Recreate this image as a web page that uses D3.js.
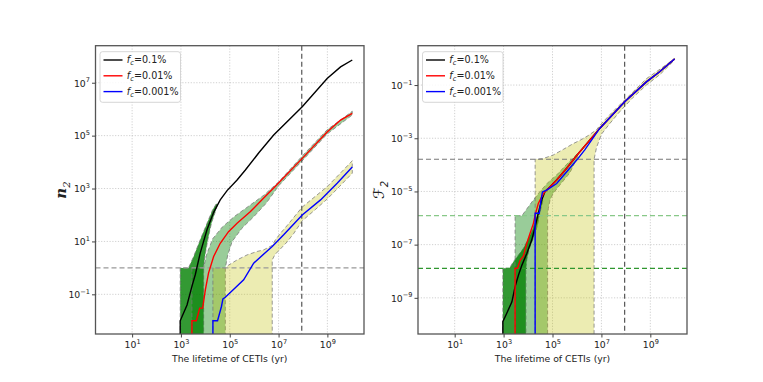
<!DOCTYPE html>
<html>
<head>
<meta charset="utf-8">
<script src="https://cdn.jsdelivr.net/npm/d3@7"></script>
<style>
  body { margin: 0; background: #fff; }
  svg text { font-family: "DejaVu Sans", sans-serif; fill: #222; }
</style>
</head>
<body>
<svg id="vis" width="763" height="382"></svg>
<script>
// every pair is [log10 lifetime (yr), log10 value]
const xTickExp = [1, 3, 5, 7, 9];
const nTickExp = [-1, 1, 3, 5, 7];
const fTickExp = [-9, -7, -5, -3, -1];
const fcLabels = ["0.1%", "0.01%", "0.001%"];

const lifetimeMark = 7.95;            // vertical dashed line (both panels)
const nOneLevel = 0;                  // n2 = 1
const fLevels = [-3.79, -5.91, -7.89]; // F2 levels where n2 = 1 (0.001%, 0.01%, 0.1%)

// left panel: n2
const n2Black = [[2.97,-2.6],[2.97,-2.0],[3.25,-1.4],[3.45,-0.7],[3.59,-0.25],[3.79,0.56],[4.07,1.45],[4.34,2.1],[4.61,2.57],[4.89,2.92],[5.30,3.32],[5.64,3.70],[6.2,4.36],[6.80,5.02],[7.97,6.09],[8.99,7.16],[9.54,7.60],[10.02,7.86]];
const n2Red = [[3.45,-2.6],[3.45,-2.0],[3.63,-2.0],[3.77,-1.52],[3.89,-1.52],[4.0,-0.83],[4.13,-0.2],[4.34,0.43],[4.61,0.93],[4.95,1.37],[5.30,1.69],[5.85,2.13],[6.39,2.64],[6.80,3.02],[7.97,4.14],[8.99,5.14],[9.54,5.59],[10.02,5.84]];
const n2Blue = [[4.31,-2.6],[4.31,-2.0],[4.50,-2.0],[4.66,-1.46],[4.72,-1.17],[4.82,-1.11],[5.57,-0.45],[5.98,0.18],[6.74,0.81],[7.21,1.25],[7.97,2.0],[8.72,2.57],[9.40,3.20],[10.02,3.81]];

const n2DarkBand = [[2.97,-2.6],[2.97,0],[3.31,0],[3.52,0.43],[3.79,1.06],[4.07,1.69],[4.3,2.2],[4.45,2.42],[4.5,2.4],[4.4,2.1],[4.25,1.69],[4.1,1.06],[3.98,0.43],[3.93,0],[3.93,-2.6]];
const n2LightBand = [[3.45,-2.6],[3.45,0],[3.93,0],[4.05,0.5],[4.3,1.1],[4.7,1.55],[5.2,1.95],[5.8,2.35],[6.4,2.75],[7.0,3.25],[8.0,4.26],[9.0,5.23],[10.02,5.92],[10.02,5.78],[9.0,5.07],[8.0,4.08],[7.0,3.1],[6.5,2.45],[6.0,1.95],[5.5,1.5],[5.1,1.0],[4.92,0.5],[4.82,0],[4.82,-2.6]];
const n2YellowBand = [[4.31,-2.6],[4.31,0],[4.82,0],[4.96,0.11],[5.30,0.30],[5.71,0.49],[6.12,0.62],[6.39,0.68],[6.74,0.85],[6.87,1.06],[7.08,1.31],[7.35,1.6],[7.97,2.3],[8.5,2.7],[8.99,3.07],[9.5,3.55],[10.02,4.05],[10.02,3.58],[9.5,3.08],[8.99,2.6],[8.5,2.2],[7.97,1.78],[7.62,1.3],[7.35,0.98],[7.08,0.72],[6.85,0.5],[6.74,0.3],[6.74,-2.6]];

// right panel: F2
const f2Black = [[2.97,-10.5],[2.97,-9.90],[3.13,-9.58],[3.34,-9.15],[3.47,-8.58],[3.61,-8.14],[3.75,-7.77],[3.95,-7.33],[4.15,-6.83],[4.29,-6.33],[4.42,-5.82],[4.56,-5.32],[4.69,-5.01],[4.90,-4.82],[5.17,-4.57],[5.58,-4.13],[5.99,-3.65],[6.93,-2.63],[7.95,-1.63],[8.84,-0.88],[9.38,-0.50],[9.99,-0.02]];
const f2Red = [[3.47,-10.5],[3.47,-7.89],[3.57,-7.89],[3.68,-7.58],[3.81,-7.43],[3.95,-6.95],[4.08,-6.58],[4.22,-6.20],[4.29,-5.89],[4.42,-5.45],[4.56,-5.20],[4.69,-5.01],[4.90,-4.82],[5.17,-4.57],[5.58,-4.13],[5.99,-3.65],[6.93,-2.63],[7.95,-1.63],[8.84,-0.88],[9.38,-0.50],[9.99,-0.02]];
const f2Blue = [[4.29,-10.5],[4.29,-5.82],[4.46,-5.82],[4.53,-5.32],[4.59,-5.02],[4.76,-4.95],[5.17,-4.70],[5.58,-4.26],[5.99,-3.82],[6.32,-3.44],[6.93,-2.63],[7.95,-1.63],[8.84,-0.88],[9.38,-0.50],[9.99,-0.02]];

const f2DarkBand = [[2.97,-10.5],[2.97,-7.89],[3.24,-7.89],[3.40,-7.64],[3.61,-7.39],[3.81,-7.14],[3.95,-6.89],[4.15,-6.52],[4.29,-6.14],[4.42,-5.76],[4.55,-5.3],[4.62,-5.3],[4.5,-5.75],[4.38,-6.3],[4.22,-6.75],[4.05,-7.15],[3.95,-7.55],[3.91,-7.89],[3.91,-10.5]];
const f2LightBand = [[3.47,-10.5],[3.47,-5.91],[3.75,-5.91],[4.01,-5.58],[4.22,-5.32],[4.49,-5.0],[4.83,-4.65],[5.17,-4.38],[5.58,-3.98],[6.0,-3.6],[6.05,-3.66],[5.71,-4.3],[5.31,-4.75],[5.03,-5.07],[4.90,-5.32],[4.83,-5.64],[4.8,-5.91],[4.8,-10.5]];
const f2YellowBand = [[4.29,-10.5],[4.29,-3.79],[4.63,-3.76],[5.03,-3.63],[5.44,-3.42],[5.85,-3.2],[6.12,-3.08],[6.46,-2.9],[6.8,-2.68],[7.0,-2.45],[7.34,-2.12],[7.82,-1.68],[8.30,-1.25],[8.84,-0.76],[9.4,-0.4],[9.99,0.0],[9.99,-0.06],[9.4,-0.6],[8.84,-1.0],[8.30,-1.46],[7.75,-2.0],[7.34,-2.45],[7.0,-2.85],[6.8,-3.35],[6.7,-3.79],[6.7,-10.5]];

const lineColors = ["#000000", "#ff0000", "#0000ff"];
const plotTop = 45.7, plotBottom = 334;

const svg = d3.select("#vis");

const pow = d => [10 ** d[0], 10 ** d[1]];

drawPanel = (opt) => {
  const g = svg.append("g");
  const x = d3.scaleLog().domain([10 ** -0.5, 10 ** 10.5]).range([opt.x0, opt.x1]);
  const y = d3.scaleLog().domain([10 ** opt.yMin, 10 ** opt.yMax]).range([plotBottom, plotTop]);

  const clipId = "clip" + opt.id;
  svg.append("clipPath").attr("id", clipId)
    .append("rect").attr("x", opt.x0).attr("y", plotTop)
    .attr("width", opt.x1 - opt.x0).attr("height", plotBottom - plotTop);

  // grid
  g.selectAll(".gx").data(xTickExp).join("line")
    .attr("x1", d => x(10 ** d)).attr("x2", d => x(10 ** d))
    .attr("y1", plotTop).attr("y2", plotBottom)
    .style("stroke", "#bbb").style("stroke-width", 0.7).style("stroke-dasharray", "1.2,1.6");
  g.selectAll(".gy").data(opt.yTicks).join("line")
    .attr("y1", d => y(10 ** d)).attr("y2", d => y(10 ** d))
    .attr("x1", opt.x0).attr("x2", opt.x1)
    .style("stroke", "#bbb").style("stroke-width", 0.7).style("stroke-dasharray", "1.2,1.6");

  const plot = g.append("g").attr("clip-path", `url(#${clipId})`);

  const line = d3.line().x(d => x(pow(d)[0])).y(d => y(pow(d)[1]));

  // shaded ranges
  const fills = [
    {pts: opt.bands[0], fill: "green", op: 0.8},
    {pts: opt.bands[1], fill: "green", op: 0.4},
    {pts: opt.bands[2], fill: "#bfbf00", op: 0.3}
  ];
  fills.forEach(f => {
    plot.append("path")
      .attr("d", line(f.pts) + "Z")
      .style("fill", f.fill).style("fill-opacity", f.op)
      .style("stroke", "#777").style("stroke-opacity", 0.75)
      .style("stroke-width", 1).style("stroke-dasharray", "4,2.5");
  });

  // reference lines
  plot.append("line")
    .attr("x1", x(10 ** lifetimeMark)).attr("x2", x(10 ** lifetimeMark))
    .attr("y1", plotTop).attr("y2", plotBottom)
    .style("stroke", "#555").style("stroke-width", 1.2).style("stroke-dasharray", "5,3");
  opt.hLines.forEach(h => {
    plot.append("line")
      .attr("x1", opt.x0).attr("x2", opt.x1)
      .attr("y1", y(10 ** h.v)).attr("y2", y(10 ** h.v))
      .style("stroke", h.c).style("stroke-width", 1.2).style("stroke-dasharray", "5,3");
  });

  // curves
  opt.curves.forEach((c, i) => {
    plot.append("path")
      .attr("d", line(c))
      .style("fill", "none").style("stroke", lineColors[i]).style("stroke-width", 1.4);
  });

  // frame
  g.append("rect")
    .attr("x", opt.x0).attr("y", plotTop)
    .attr("width", opt.x1 - opt.x0).attr("height", plotBottom - plotTop)
    .style("fill", "none").style("stroke", "#555").style("stroke-width", 1.3);

  // axes
  const gx = g.append("g").attr("transform", `translate(0,${plotBottom})`)
    .call(d3.axisBottom(x).tickValues(xTickExp.map(e => 10 ** e)).tickSize(3.5).tickFormat(""));
  gx.select(".domain").remove();
  gx.selectAll(".tick line").style("stroke", "#444");
  gx.selectAll(".tick").each(function(d) {
    const t = d3.select(this).append("text")
      .attr("y", 14).attr("text-anchor", "middle")
      .style("font-size", "9.3px").style("fill", "#222");
    t.append("tspan").text("10");
    t.append("tspan").attr("dy", -4.2).style("font-size", "6.6px")
      .text(String(Math.round(Math.log10(d))).replace("-", "\u2212"));
  });

  const gy = g.append("g").attr("transform", `translate(${opt.x0},0)`)
    .call(d3.axisLeft(y).tickValues(opt.yTicks.map(e => 10 ** e)).tickSize(3.5).tickFormat(""));
  gy.select(".domain").remove();
  gy.selectAll(".tick line").style("stroke", "#444");
  gy.selectAll(".tick").each(function(d) {
    const t = d3.select(this).append("text")
      .attr("x", -5.5).attr("y", 3.3).attr("text-anchor", "end")
      .style("font-size", "9.3px").style("fill", "#222");
    t.append("tspan").text("10");
    t.append("tspan").attr("dy", -4.2).style("font-size", "6.6px")
      .text(String(Math.round(Math.log10(d))).replace("-", "\u2212"));
  });

  // axis titles
  g.append("text")
    .attr("x", (opt.x0 + opt.x1) / 2).attr("y", 362)
    .attr("text-anchor", "middle")
    .style("font-size", "9.3px")
    .text("The lifetime of CETIs (yr)");

  const yl = g.append("text")
    .attr("transform", `translate(${opt.yLabelX},190) rotate(-90)`)
    .attr("text-anchor", "middle")
    .style("font-family", opt.yLabelFont)
    .style("font-size", "15px");
  yl.append("tspan").style("font-style", opt.yLabelStyle).style("font-weight", opt.yLabelBold ? "bold" : "normal").text(opt.yLabel);
  yl.append("tspan").attr("dy", 3.5).style("font-size", "10px").style("font-style", "italic").text("2");

  // legend
  const lg = g.append("g").attr("transform", `translate(${opt.x0 + 4.5},51.7)`);
  lg.append("rect").attr("width", 80.5).attr("height", 50.6).attr("rx", 2.5)
    .style("fill", "#fff").style("fill-opacity", 0.85)
    .style("stroke", "#ccc").style("stroke-width", 0.8);
  fcLabels.forEach((lab, i) => {
    const yy = 8.3 + i * 15.8;
    lg.append("line").attr("x1", 3.5).attr("x2", 22.5).attr("y1", yy).attr("y2", yy)
      .style("stroke", lineColors[i]).style("stroke-width", 1.4);
    const t = lg.append("text").attr("x", 26.8).attr("y", yy + 3.5).style("font-size", "9.6px");
    t.append("tspan").style("font-style", "italic").text("f");
    t.append("tspan").attr("dy", 2).style("font-style", "italic").style("font-size", "6.8px").text("c");
    t.append("tspan").attr("dy", -2).text("=" + lab);
  });
};

drawPanel({
  id: "L", x0: 95.5, x1: 364, yMin: -2.5, yMax: 8.4, yTicks: nTickExp,
  bands: [n2DarkBand, n2LightBand, n2YellowBand],
  curves: [n2Black, n2Red, n2Blue],
  hLines: [{v: nOneLevel, c: "#999"}],
  yLabel: "n", yLabelX: 66, yLabelBold: true, yLabelStyle: "italic", yLabelFont: "'DejaVu Serif', serif"
});

drawPanel({
  id: "R", x0: 418, x1: 687, yMin: -10.36, yMax: 0.48, yTicks: fTickExp,
  bands: [f2DarkBand, f2LightBand, f2YellowBand],
  curves: [f2Black, f2Red, f2Blue],
  hLines: [{v: fLevels[0], c: "#777"}, {v: fLevels[1], c: "#88c888"}, {v: fLevels[2], c: "#2f962f"}],
  yLabel: "\u2131", yLabelX: 384, yLabelBold: false, yLabelStyle: "normal", yLabelFont: "'DejaVu Sans', sans-serif"
});
</script>
</body>
</html>
